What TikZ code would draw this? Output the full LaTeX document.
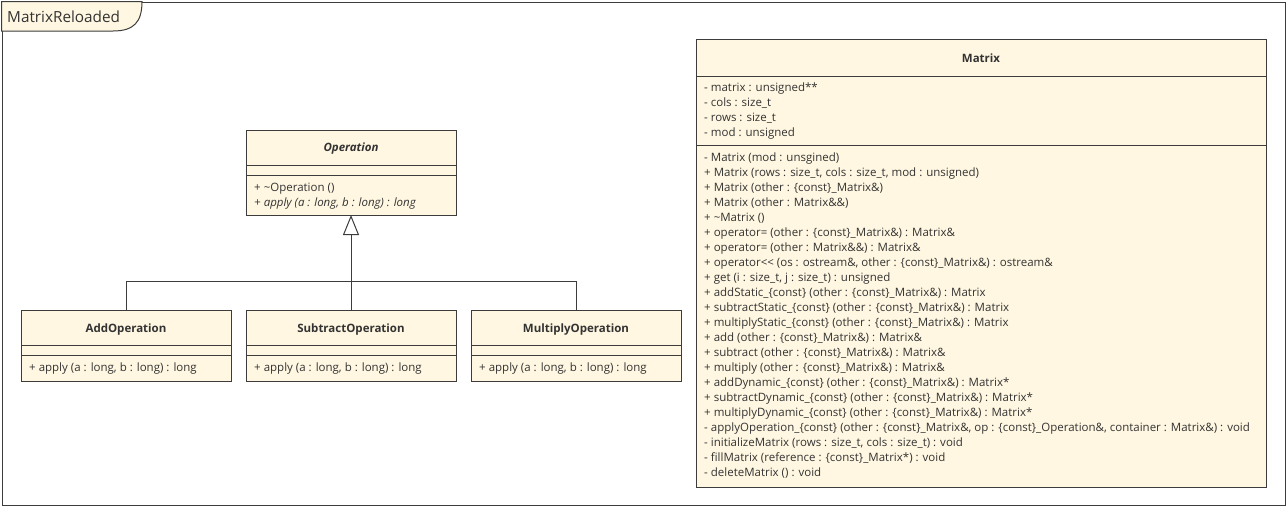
\documentclass[tikz,border=0pt]{standalone}
\usepackage{fontspec}
\setmainfont{Open Sans}
\usetikzlibrary{arrows.meta}
\definecolor{cls}{HTML}{FFF7E1}
\definecolor{ln}{HTML}{3C3C3C}
\definecolor{tx}{HTML}{333333}
\newcommand{\memfont}{\fontsize{11.5}{13}\selectfont}
\newcommand{\cb}{\{const\}\_}
\begin{document}
\begin{tikzpicture}[x=1pt,y=-1pt,
  box/.style={draw=ln, fill=cls, line width=1pt, inner sep=0pt, outer sep=0pt, anchor=north west},
  mem/.style={anchor=base west, inner sep=0pt, text=tx, font=\memfont},
  ttl/.style={anchor=base, inner sep=0pt, text=tx, font=\memfont\bfseries},
  conn/.style={draw=ln, line width=1pt},
  sepline/.style={draw=ln, line width=1pt}]
\useasboundingbox (0,0) rectangle (1287,506);
% frame
\node[draw=ln, line width=1pt, minimum width=1283pt, minimum height=503pt, anchor=north west, inner sep=0pt] (frame) at (1.5,1.5) {};
\draw[sepline, fill=cls] (1.5,1.5) -- (142,1.5) .. controls (142,22) and (134,31) .. (113,31) -- (1.5,31) -- cycle;
\node[anchor=base west, inner sep=0pt, text=tx, font=\fontsize{15.3}{18}\selectfont] (title) at (7,22.5) {MatrixReloaded};

% Operation
\node[box, minimum width=210pt, minimum height=85pt] (op) at (246,130) {};
\draw[sepline] (246,165) -- (456,165);
\draw[sepline] (246,175) -- (456,175);
\node[ttl, font=\memfont\bfseries\itshape] (opn) at (351,151) {Operation};
\node[mem] (op1) at (254,191) {+ \textasciitilde Operation ()};
\node[mem, font=\memfont\itshape] (op2) at (254,206) {+ apply (a : long, b : long) : long};

% subclasses
\node[box, minimum width=210pt, minimum height=71pt] (add) at (21,310) {};
\draw[sepline] (21,345) -- (231,345);
\draw[sepline] (21,355) -- (231,355);
\node[ttl] (addn) at (126,332) {AddOperation};
\node[mem] (add1) at (29,371) {+ apply (a : long, b : long) : long};

\node[box, minimum width=210pt, minimum height=71pt] (sub) at (246,310) {};
\draw[sepline] (246,345) -- (456,345);
\draw[sepline] (246,355) -- (456,355);
\node[ttl] (subn) at (351,332) {SubtractOperation};
\node[mem] (sub1) at (254,371) {+ apply (a : long, b : long) : long};

\node[box, minimum width=210pt, minimum height=71pt] (mul) at (471,310) {};
\draw[sepline] (471,345) -- (681,345);
\draw[sepline] (471,355) -- (681,355);
\node[ttl] (muln) at (576,332) {MultiplyOperation};
\node[mem] (mul1) at (479,371) {+ apply (a : long, b : long) : long};

% generalization
\coordinate (j) at (351,281);
\draw[conn] (add.north) |- (j);
\draw[conn] (mul.north) |- (j);
\draw[conn, -{Triangle[open, length=20pt, width=16pt, fill=white]}] (sub.north) -- (op.south);

% Matrix
\node[box, minimum width=570pt, minimum height=448pt] (mx) at (696,39) {};
\draw[sepline] (696,76) -- (1266,76);
\draw[sepline] (696,145) -- (1266,145);
\node[ttl] (mxn) at (981,62) {Matrix};
\node[mem] (a1) at (704,91) {- matrix : unsigned**};
\node[mem] (a2) at (704,106) {- cols : size\_t};
\node[mem] (a3) at (704,121) {- rows : size\_t};
\node[mem] (a4) at (704,136) {- mod : unsigned};

\node[mem] (m1) at (704,161) {- Matrix (mod : unsgined)};
\node[mem] (m2) at (704,176) {+ Matrix (rows : size\_t, cols : size\_t, mod : unsigned)};
\node[mem] (m3) at (704,191) {+ Matrix (other : \cb Matrix\&)};
\node[mem] (m4) at (704,206) {+ Matrix (other : Matrix\&\&)};
\node[mem] (m5) at (704,221) {+ \textasciitilde Matrix ()};
\node[mem] (m6) at (704,236) {+ operator= (other : \cb Matrix\&) : Matrix\&};
\node[mem] (m7) at (704,251) {+ operator= (other : Matrix\&\&) : Matrix\&};
\node[mem] (m8) at (704,266) {+ operator{<}{<} (os : ostream\&, other : \cb Matrix\&) : ostream\&};
\node[mem] (m9) at (704,281) {+ get (i : size\_t, j : size\_t) : unsigned};
\node[mem] (m10) at (704,296) {+ addStatic\_\{const\} (other : \cb Matrix\&) : Matrix};
\node[mem] (m11) at (704,311) {+ subtractStatic\_\{const\} (other : \cb Matrix\&) : Matrix};
\node[mem] (m12) at (704,326) {+ multiplyStatic\_\{const\} (other : \cb Matrix\&) : Matrix};
\node[mem] (m13) at (704,341) {+ add (other : \cb Matrix\&) : Matrix\&};
\node[mem] (m14) at (704,356) {+ subtract (other : \cb Matrix\&) : Matrix\&};
\node[mem] (m15) at (704,371) {+ multiply (other : \cb Matrix\&) : Matrix\&};
\node[mem] (m16) at (704,386) {+ addDynamic\_\{const\} (other : \cb Matrix\&) : Matrix*};
\node[mem] (m17) at (704,401) {+ subtractDynamic\_\{const\} (other : \cb Matrix\&) : Matrix*};
\node[mem] (m18) at (704,416) {+ multiplyDynamic\_\{const\} (other : \cb Matrix\&) : Matrix*};
\node[mem] (m19) at (704,431) {- applyOperation\_\{const\} (other : \cb Matrix\&, op : \cb Operation\&, container : Matrix\&) : void};
\node[mem] (m20) at (704,446) {- initializeMatrix (rows : size\_t, cols : size\_t) : void};
\node[mem] (m21) at (704,461) {- fillMatrix (reference : \cb Matrix*) : void};
\node[mem] (m22) at (704,476) {- deleteMatrix () : void};
\end{tikzpicture}
\end{document}
